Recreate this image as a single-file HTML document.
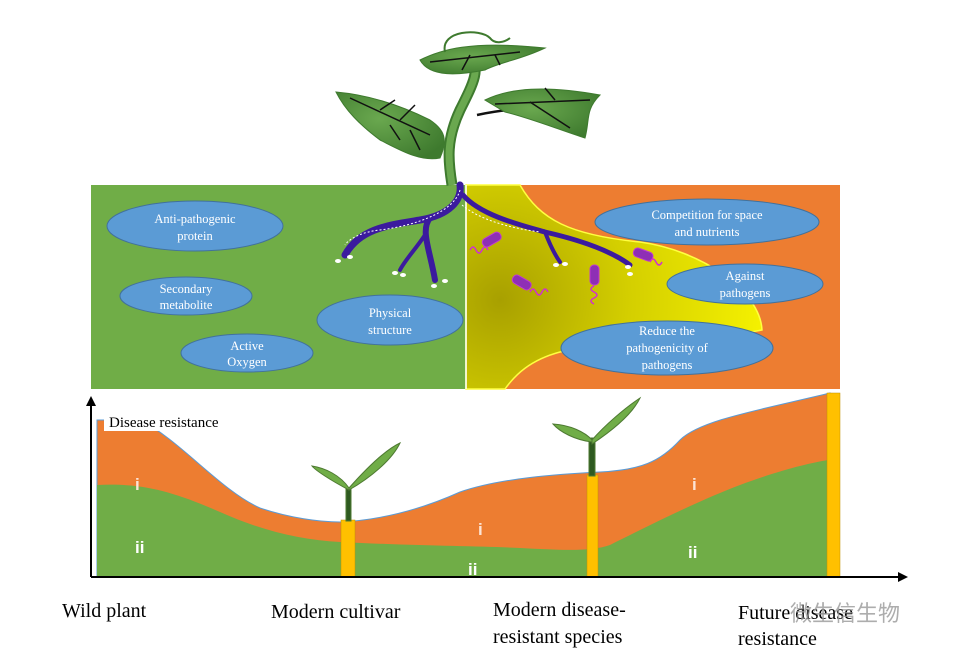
<!DOCTYPE html>
<html><head><meta charset="utf-8"><style>body{margin:0;background:#fff}svg{display:block}</style></head><body>
<svg width="968" height="657" viewBox="0 0 968 657" xmlns="http://www.w3.org/2000/svg" font-family="Liberation Serif, serif">
<defs>
<radialGradient id="yg" cx="500" cy="300" r="260" gradientUnits="userSpaceOnUse">
<stop offset="0" stop-color="#a8a000"/><stop offset="0.5" stop-color="#d4cf00"/><stop offset="1" stop-color="#f4f000"/></radialGradient>
<radialGradient id="lg" cx="0.4" cy="0.4" r="0.7"><stop offset="0" stop-color="#6aa84f"/><stop offset="1" stop-color="#3e7a2e"/></radialGradient>
</defs>
<rect x="91" y="185" width="375" height="204" fill="#70ad47"/>
<rect x="466" y="185" width="374" height="204" fill="#ed7d31"/>
<path d="M466,185 L520,185 C540,220 570,235 640,242 C700,250 760,290 762,330 C720,338 620,345 560,352 C530,360 515,375 505,389 L466,389 Z" fill="url(#yg)" stroke="#ffff40" stroke-width="1.5"/>
<line x1="466" y1="185" x2="466" y2="389" stroke="#fff" stroke-width="1.5"/>
<path d="M452,185 C448,160 446,140 460,110 C475,80 480,70 470,55" fill="none" stroke="#3e7a2e" stroke-width="11"/>
<path d="M452,185 C448,160 446,140 460,110 C475,80 480,70 470,55" fill="none" stroke="#6aa84f" stroke-width="7"/>
<path d="M477,115 C500,110 520,108 540,110" stroke="#111" stroke-width="2.5" fill="none"/>
<path d="M336,92 C370,95 400,105 430,120 C445,130 448,140 440,158 C420,162 400,150 380,140 C360,125 345,110 336,92 Z" fill="url(#lg)" stroke="#3e7a2e"/>
<path d="M350,98 L430,135 M380,110 L395,100 M400,120 L415,105 M390,125 L400,140 M410,130 L420,150" stroke="#111" stroke-width="1.5" fill="none"/>
<path d="M485,100 C510,88 545,85 600,95 C585,110 590,120 585,138 C560,130 530,118 505,112 Z" fill="url(#lg)" stroke="#3e7a2e"/>
<path d="M495,104 L590,100 M530,102 L570,128 M555,100 L545,88" stroke="#111" stroke-width="1.5" fill="none"/>
<path d="M420,60 C440,50 470,40 545,48 C520,60 500,62 485,70 C460,75 430,78 420,60 Z" fill="url(#lg)" stroke="#3e7a2e"/>
<path d="M430,62 L520,52 M470,55 L462,70 M495,55 L500,65" stroke="#111" stroke-width="1.5" fill="none"/>
<path d="M445,52 C440,30 480,28 490,38 C495,45 505,42 510,38" stroke="#3e7a2e" stroke-width="2" fill="none"/>
<g fill="none" stroke="#3b1a9e" stroke-linecap="round">
<path d="M460,185 C462,200 450,215 420,220 C390,225 360,228 345,255" stroke-width="7"/>
<path d="M430,218 C420,230 430,250 435,280" stroke-width="6"/>
<path d="M425,235 C415,250 405,260 400,270" stroke-width="4"/>
<path d="M463,195 C480,215 520,225 545,232 C580,240 610,250 630,265" stroke-width="5"/>
<path d="M545,232 C550,245 555,255 560,262" stroke-width="4"/>
</g>
<path d="M460,190 C455,210 420,225 380,230 C360,232 348,240 345,245" stroke="#fff" stroke-dasharray="2,2" fill="none"/>
<path d="M462,205 C480,220 510,228 540,232" stroke="#fff" stroke-dasharray="2,2" fill="none"/>
<g fill="#fff"><ellipse cx="338" cy="261" rx="3" ry="2"/><ellipse cx="350" cy="257" rx="3" ry="2"/><ellipse cx="395" cy="273" rx="3" ry="2"/><ellipse cx="403" cy="275" rx="3" ry="2"/><ellipse cx="434" cy="286" rx="3" ry="2"/><ellipse cx="445" cy="281" rx="3" ry="2"/><ellipse cx="556" cy="265" rx="3" ry="2"/><ellipse cx="565" cy="264" rx="3" ry="2"/><ellipse cx="628" cy="267" rx="3" ry="2"/><ellipse cx="630" cy="274" rx="3" ry="2"/></g>
<g fill="#8e2fb5" stroke="#c03ad0"><rect x="482" y="235" width="20" height="9" rx="4" transform="rotate(-30 492 240)"/><rect x="512" y="278" width="20" height="9" rx="4" transform="rotate(30 522 282)"/><rect x="590" y="265" width="9" height="20" rx="4"/><rect x="633" y="250" width="20" height="9" rx="4" transform="rotate(20 643 255)"/></g>
<g fill="none" stroke="#d030d0" stroke-width="1.5"><path d="M470,250 q3,-6 6,0 q3,6 6,0 q3,-6 6,0"/><path d="M530,292 q3,-6 6,0 q3,6 6,0 q3,-6 6,0"/><path d="M594,286 q-6,3 0,6 q6,3 0,6 q-6,3 0,6"/><path d="M650,262 q3,-6 6,0 q3,6 6,0"/></g>
<g fill="#5b9bd5" stroke="#41719c" stroke-width="1">
<ellipse cx="195" cy="226" rx="88" ry="25"/><ellipse cx="186" cy="296" rx="66" ry="19"/><ellipse cx="247" cy="353" rx="66" ry="19"/><ellipse cx="390" cy="320" rx="73" ry="25"/><ellipse cx="707" cy="222" rx="112" ry="23"/><ellipse cx="745" cy="284" rx="78" ry="20"/><ellipse cx="667" cy="348" rx="106" ry="27"/></g>
<g fill="#fff" font-size="12.5" text-anchor="middle">
<text x="195" y="223">Anti-pathogenic</text><text x="195" y="240">protein</text>
<text x="186" y="293">Secondary</text><text x="186" y="309">metabolite</text>
<text x="247" y="350">Active</text><text x="247" y="366">Oxygen</text>
<text x="390" y="317">Physical</text><text x="390" y="334">structure</text>
<text x="707" y="219">Competition for space</text><text x="707" y="236">and nutrients</text>
<text x="745" y="280">Against</text><text x="745" y="297">pathogens</text>
<text x="667" y="335">Reduce the</text><text x="667" y="352">pathogenicity of</text><text x="667" y="369">pathogens</text>
</g>
<path d="M97,420 L140,420 C180,440 220,490 260,508 C290,518 320,522 340,522 C380,520 420,510 460,492 C500,478 560,474 600,472 C640,470 660,462 680,440 C700,420 760,410 830,393 L830,577 L97,577 Z" fill="#ed7d31" stroke="#5b9bd5" stroke-width="1"/>
<path d="M97,485 C140,483 170,490 220,512 C260,530 300,540 340,542 C420,546 480,546 520,548 C560,550 590,552 610,545 C650,525 700,500 740,485 C780,470 810,463 828,460 L828,577 L97,577 Z" fill="#70ad47"/>
<rect x="341" y="520" width="14" height="57" fill="#ffc000" stroke="#c09000" stroke-width="0.5"/>
<rect x="587" y="475" width="11" height="102" fill="#ffc000" stroke="#c09000" stroke-width="0.5"/>
<rect x="827" y="393" width="13" height="184" fill="#ffc000" stroke="#c09000" stroke-width="0.5"/>
<g fill="#70ad47" stroke="#4e7a32"><rect x="346" y="488" width="5" height="33" fill="#2e5a20"/><path d="M349,490 C330,480 315,470 312,466 C325,468 340,475 349,488 Z"/><path d="M349,488 C365,470 385,450 400,443 C392,460 370,478 349,490 Z"/>
<rect x="589" y="438" width="6" height="38" fill="#2e5a20"/><path d="M592,442 C575,440 560,432 553,424 C570,425 585,432 592,440 Z"/><path d="M592,440 C605,425 625,408 640,398 C632,415 610,432 592,444 Z"/></g>
<line x1="91" y1="577" x2="900" y2="577" stroke="#000" stroke-width="2"/>
<path d="M908,577 L898,572 L898,582 Z"/>
<line x1="91" y1="577" x2="91" y2="404" stroke="#000" stroke-width="2"/>
<path d="M91,396 L86,406 L96,406 Z"/>
<rect x="104" y="411" width="136" height="20" fill="#fff"/>
<text x="109" y="427" font-size="15">Disease resistance</text>
<g font-family="Liberation Sans, sans-serif" font-size="17" font-weight="bold" fill="#fff"><text x="135" y="490" fill="#fce4d6">i</text><text x="135" y="553">ii</text><text x="478" y="535" fill="#fce4d6">i</text><text x="468" y="575">ii</text><text x="692" y="490" fill="#fce4d6">i</text><text x="688" y="558">ii</text></g>
<g font-size="20"><text x="62" y="617">Wild plant</text><text x="271" y="618">Modern cultivar</text><text x="493" y="616">Modern disease-</text><text x="493" y="643">resistant species</text><text x="738" y="619">Future disease</text><text x="738" y="645">resistance</text></g>
<text x="790" y="621" font-size="22" fill="#999" opacity="0.8" font-family="Noto Sans CJK SC, sans-serif">微生信生物</text>
</svg>
</body></html>
